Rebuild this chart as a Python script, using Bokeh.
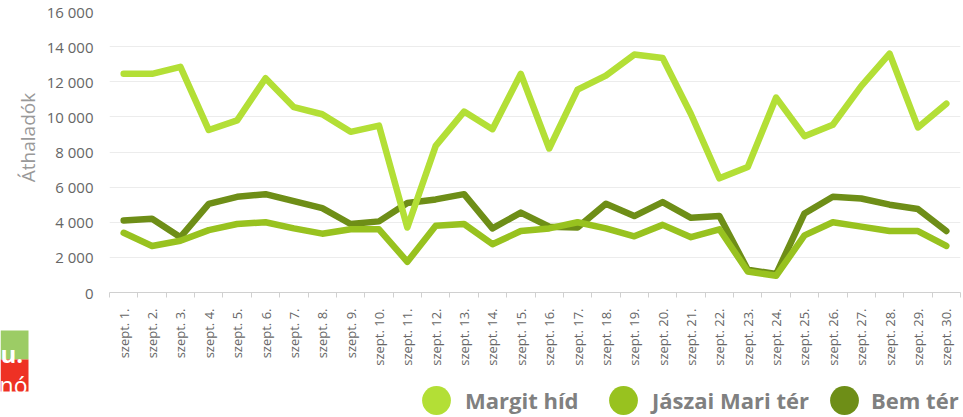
import math
from bokeh.plotting import figure
from bokeh.layouts import row, column
from bokeh.models import Range1d, FixedTicker, Legend, LegendItem, Label, BoxAnnotation
from bokeh.embed import file_html
from bokeh.resources import INLINE

# ---- data -------------------------------------------------------------
dates = ["szept. 1.", "szept. 2.", "szept. 3.", "szept. 4.", "szept. 5.",
         "szept. 6.", "szept. 7.", "szept. 8.", "szept. 9.", "szept. 10.",
         "szept. 11.", "szept. 12.", "szept. 13.", "szept. 14.", "szept. 15.",
         "szept. 16.", "szept. 17.", "szept. 18.", "szept. 19.", "szept. 20.",
         "szept. 21.", "szept. 22.", "szept. 23.", "szept. 24.", "szept. 25.",
         "szept. 26.", "szept. 27.", "szept. 28.", "szept. 29.", "szept. 30."]

margit = [12450, 12450, 12850, 9250, 9800, 12200, 10550, 10150, 9150, 9500,
          3700, 8350, 10300, 9300, 12450, 8200, 11550, 12350, 13550, 13350,
          10150, 6500, 7150, 11100, 8900, 9550, 11750, 13600, 9400, 10750]
jaszai = [3400, 2650, 2950, 3550, 3900, 4000, 3650, 3350, 3600, 3600,
          1750, 3800, 3900, 2750, 3500, 3650, 4000, 3650, 3200, 3850,
          3150, 3600, 1200, 950, 3250, 4000, 3750, 3500, 3500, 2650]
bem = [4100, 4200, 3150, 5050, 5450, 5600, 5200, 4800, 3900, 4050,
       5100, 5300, 5600, 3650, 4550, 3750, 3700, 5050, 4350, 5150,
       4250, 4350, 1300, 1050, 4500, 5450, 5350, 5000, 4750, 3500]

series_names = ["Margit híd", "Jászai Mari tér", "Bem tér"]
series_colors = ["#b3df36", "#98c21f", "#6e8e17"]
y_ticks = [0, 2000, 4000, 6000, 8000, 10000, 12000, 14000, 16000]
y_labels = ["0", "2 000", "4 000", "6 000", "8 000", "10 000", "12 000", "14 000", "16 000"]
y_title = "Áthaladók"
corner_texts = ["u.", "nó"]

# ---- layout constants ---------------------------------------------------
LEFT_W = 40
MAIN_H = 375
TOTAL_W, TOTAL_H = 963, 417
LEGEND_X = [309, 496, 717]        # legend item offsets from the plot frame
LEGEND_STANDOFF = [11, 11, 9]

# ---- left strip: axis title + clipped page elements -------------------
left = figure(width=LEFT_W, height=TOTAL_H, x_range=Range1d(0, LEFT_W),
              y_range=Range1d(TOTAL_H, 0), output_backend="svg",
              toolbar_location=None, x_axis_location=None, y_axis_location=None,
              min_border=0)
left.outline_line_color = None
left.grid.visible = False
left.add_layout(Label(x=27.5, y=137, text=y_title, angle=math.pi / 2,
                      text_align="center", text_baseline="middle",
                      text_font="Open Sans", text_font_size="19px",
                      text_color="#999999"))
left.add_layout(BoxAnnotation(left=0, right=28, top=330, bottom=359,
                              fill_color="#9ccc65", fill_alpha=1, line_color=None))
left.add_layout(BoxAnnotation(left=0, right=28, top=359, bottom=391,
                              fill_color="#ee3124", fill_alpha=1, line_color=None))
left.add_layout(Label(x=0, y=352.5, text=corner_texts[0], text_align="left",
                      text_baseline="alphabetic", text_font="Open Sans",
                      text_font_style="bold", text_font_size="24px",
                      text_color="white"))
left.add_layout(Label(x=27, y=384, text=corner_texts[1], text_align="right",
                      text_baseline="alphabetic", text_font="Open Sans",
                      text_font_size="23px", text_color="white"))

# ---- main chart -------------------------------------------------------
xs = [i + 0.5 for i in range(len(dates))]
bounds = list(range(len(dates) + 1))

p = figure(width=TOTAL_W - LEFT_W, height=MAIN_H,
           x_range=Range1d(0, len(dates)), y_range=Range1d(0, y_ticks[-1]),
           output_backend="svg", toolbar_location=None,
           min_border_left=69, min_border_right=3,
           min_border_top=11, min_border_bottom=83)
p.outline_line_color = None
p.xgrid.visible = False
p.ygrid.ticker = FixedTicker(ticks=y_ticks)
p.ygrid.grid_line_color = "#ececec"
p.ygrid.grid_line_width = 1

yax = p.yaxis[0]
yax.ticker = FixedTicker(ticks=y_ticks)
yax.major_label_overrides = dict(zip(y_ticks, y_labels))
yax.axis_line_color = None
yax.major_tick_line_color = None
yax.minor_tick_line_color = None
yax.major_tick_out = 0
yax.major_label_standoff = 16
yax.major_label_text_font = "Open Sans"
yax.major_label_text_font_size = "15px"
yax.major_label_text_color = "#666666"

xax = p.xaxis[0]
xax.ticker = FixedTicker(ticks=xs, minor_ticks=bounds)
xax.major_label_overrides = dict(zip(xs, dates))
xax.major_label_orientation = math.pi / 2
xax.major_tick_line_color = None
xax.major_tick_out = 0
xax.major_tick_in = 0
xax.minor_tick_line_color = "#d0d0d0"
xax.minor_tick_out = 5
xax.minor_tick_in = 0
xax.axis_line_color = "#d0d0d0"
xax.major_label_standoff = 11
xax.major_label_text_font = "Open Sans"
xax.major_label_text_font_size = "13px"
xax.major_label_text_color = "#666666"

series = [margit, jaszai, bem]
for data, color in reversed(list(zip(series, series_colors))):
    p.line(xs, data, line_width=6.5, line_color=color,
           line_cap="round", line_join="round")

# ---- legend strip -----------------------------------------------------
leg = figure(width=TOTAL_W - LEFT_W, height=TOTAL_H - MAIN_H,
             x_range=Range1d(0, 1), y_range=Range1d(0, 1),
             output_backend="svg", toolbar_location=None,
             x_axis_location=None, y_axis_location=None, min_border=0)
leg.outline_line_color = None
leg.grid.visible = False
for name, color, lx, so in zip(series_names, series_colors, LEGEND_X, LEGEND_STANDOFF):
    r = leg.ellipse(x=[float("nan")], y=[float("nan")], width=10, height=10,
                    width_units="screen", height_units="screen",
                    fill_color=color, line_color=None)
    lg = Legend(items=[LegendItem(label=name, renderers=[r])], location=(lx, -1),
                orientation="horizontal", glyph_width=36, glyph_height=36,
                label_standoff=so, spacing=0, padding=0, margin=0,
                border_line_color=None, background_fill_alpha=0,
                label_text_font="Open Sans", label_text_font_style="bold",
                label_text_font_size="22px", label_text_color="#808080")
    leg.add_layout(lg, "center")

layout = row(left, column(p, leg))
open("out.html", "w").write(file_html(layout, INLINE))
